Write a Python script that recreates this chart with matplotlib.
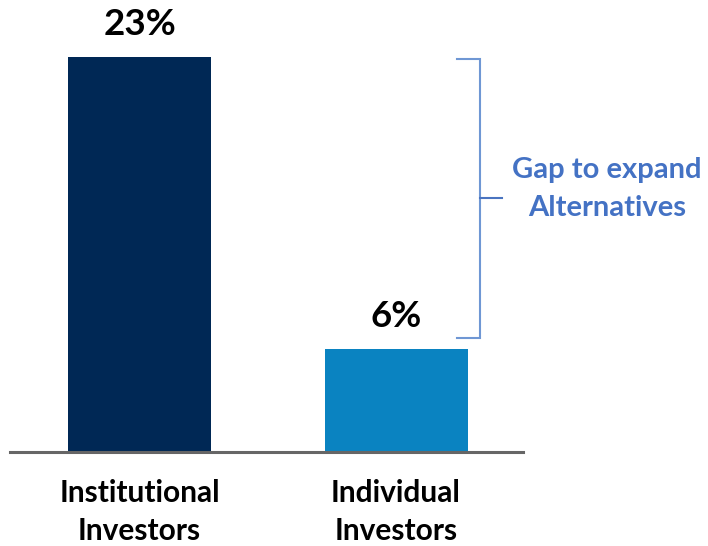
import matplotlib.pyplot as plt

# data
categories = ["Institutional\nInvestors", "Individual\nInvestors"]
values = [23, 6]
value_labels = ["23%", "6%"]
bar_colors = ["#002855", "#0A83C1"]
note = "Gap to expand\nAlternatives"

plt.rcParams["font.family"] = ["Lato", "DejaVu Sans"]

W, H = 708, 546
fig = plt.figure(figsize=(W / 100, H / 100), dpi=100)
# axes: x 10..523 px, baseline at y=452 px from top
ax = fig.add_axes([10 / W, (H - 452) / H, 513 / W, 452 / H])

x = list(range(len(values)))
ax.bar(x, values, width=0.5575, color=bar_colors, zorder=2)
ax.set_xlim(-0.505, 1.495)
ax.set_ylim(0, 23 * 452 / 395)

for xi, v, lab in zip(x, values, value_labels):
    ax.annotate(lab, (xi, v), xytext=(0, 22), textcoords="offset pixels",
                ha="center", va="baseline", fontsize=26.5, fontweight="bold",
                color="black")

for xi, cat in zip(x, categories):
    ax.annotate(cat, (xi, 0), xytext=(0, -27), textcoords="offset pixels",
                ha="center", va="top", fontsize=21.5, fontweight="bold",
                color="black", linespacing=1.45)

# baseline
ax.axhline(0, color="#666666", lw=2.2, zorder=3, clip_on=False)

# bracket spanning the gap
bx0, bx1, btick = 1.238, 1.327, 1.413
top, bot = values[0] - 0.1, values[1] + 0.65
mid = (top + bot) / 2
bcol = "#6F97D4"
ax.plot([bx0, bx1, bx1, bx0], [top, top, bot, bot], color=bcol, lw=1.5,
        solid_joinstyle="miter")
ax.plot([bx1, btick], [mid, mid], color="#4A74C0", lw=1.5)

fig.text(607 / W, 1 - 189 / H, note, ha="center", va="center",
         fontsize=21, fontweight="bold", color="#4472C4", linespacing=1.55)

ax.axis("off")
fig.savefig("out.png", dpi=100)
